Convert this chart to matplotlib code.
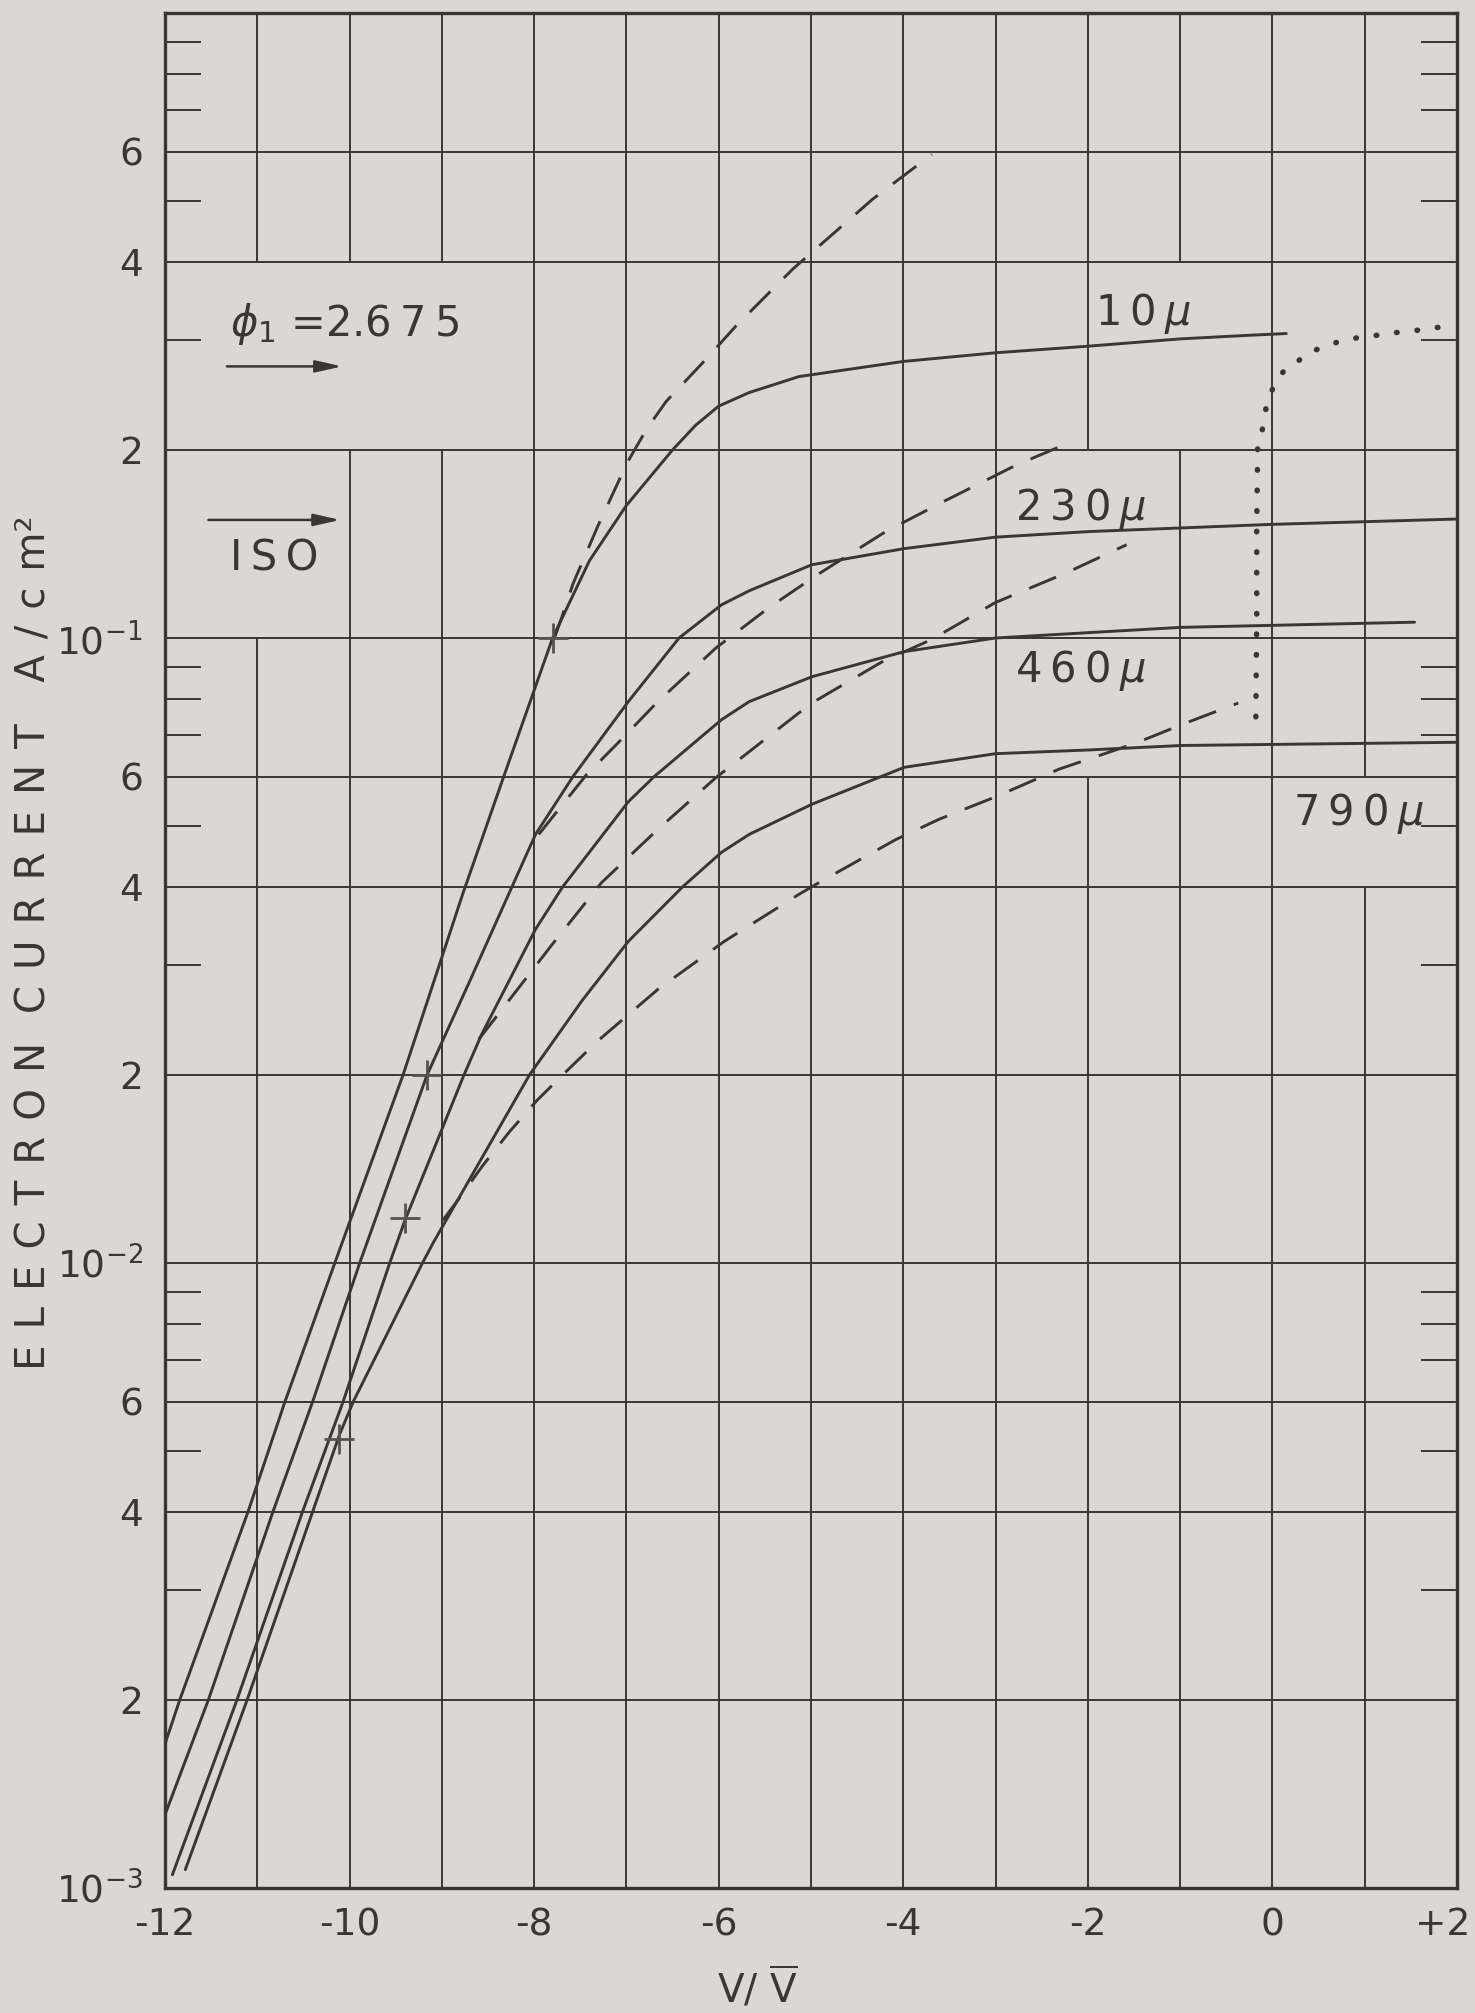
import matplotlib
matplotlib.use("Agg")
import matplotlib.pyplot as plt
from matplotlib.ticker import FixedLocator, NullFormatter
from matplotlib.transforms import ScaledTranslation

PAPER = "#d9d8d3"
INK = "#3a3636"
TS = "\u2009"  # thin space, the hand lettering is wide

# solid curves: V/Vbar and electron current (A/cm^2)
V_10 = [-12.0, -11.84, -11.10, -10.70, -10.16, -9.42, -8.775, -8.33, -7.80, -7.40,
        -7.00, -6.50, -6.25, -6.00, -5.67, -5.13, -4.00, -3.00, -2.00, -1.00, -0.26, 0.15]
J_10 = [1.70e-3, 2.0e-3, 4.0e-3, 6.0e-3, 1.0e-2, 2.0e-2, 3.89e-2, 6.0e-2, 0.100, 0.133,
        0.163, 0.200, 0.219, 0.235, 0.247, 0.262, 0.277, 0.286, 0.293, 0.301, 0.305, 0.307]

V_230 = [-12.0, -11.53, -10.83, -10.40, -9.89, -9.16, -8.70, -8.24, -7.985, -7.58,
         -6.98, -6.43, -5.97, -5.67, -4.99, -3.99, -3.00, -1.99, -0.99, 0.0, 2.0]
J_230 = [1.31e-3, 2.0e-3, 4.0e-3, 6.0e-3, 1.0e-2, 2.0e-2, 2.82e-2, 4.0e-2, 4.85e-2, 6.0e-2,
         7.91e-2, 0.100, 0.113, 0.119, 0.131, 0.139, 0.145, 0.148, 0.150, 0.152, 0.155]

V_460 = [-11.92, -11.22, -10.51, -10.07, -9.565, -9.40, -8.76, -8.57, -7.985, -7.69,
         -6.98, -6.70, -5.97, -5.67, -4.99, -3.99, -3.00, -1.99, -0.99, 1.54]
J_460 = [1.05e-3, 2.0e-3, 4.0e-3, 6.0e-3, 1.0e-2, 1.17e-2, 2.0e-2, 2.32e-2, 3.42e-2, 4.0e-2,
         5.47e-2, 6.0e-2, 7.40e-2, 7.91e-2, 8.67e-2, 9.51e-2, 0.100, 0.102, 0.104, 0.106]

V_790 = [-11.78, -11.11, -10.40, -10.11, -9.96, -9.21, -9.09, -8.05, -7.48, -6.98,
         -6.39, -5.97, -5.67, -4.99, -3.99, -3.00, -1.99, -0.99, 2.0]
J_790 = [1.07e-3, 2.0e-3, 4.0e-3, 5.31e-3, 6.0e-3, 1.0e-2, 1.08e-2, 2.0e-2, 2.63e-2, 3.27e-2,
         4.0e-2, 4.54e-2, 4.85e-2, 5.42e-2, 6.21e-2, 6.53e-2, 6.62e-2, 6.73e-2, 6.81e-2]

# dashed curves
VD_10 = [-7.78, -7.70, -7.58, -7.31, -6.99, -6.78, -6.57, -6.18, -5.81, -5.20, -4.33, -3.69]
JD_10 = [0.100, 0.108, 0.122, 0.151, 0.191, 0.216, 0.239, 0.275, 0.316, 0.389, 0.504, 0.594]

VD_230 = [-7.95, -7.72, -7.43, -7.11, -6.66, -6.03, -5.45, -4.94, -4.62, -4.19, -3.54, -2.78, -2.18]
JD_230 = [0.0485, 0.0535, 0.0605, 0.0675, 0.0791, 0.0964, 0.112, 0.126, 0.135, 0.148,
          0.166, 0.189, 0.206]

VD_460 = [-8.60, -8.30, -7.80, -7.27, -6.68, -6.03, -5.13, -4.94, -4.23, -3.69, -3.00, -2.24, -1.58]
JD_460 = [0.0228, 0.0260, 0.0324, 0.0406, 0.0491, 0.0598, 0.0759, 0.0795, 0.0916, 0.0995,
          0.114, 0.127, 0.141]

VD_790 = [-8.99, -8.81, -8.56, -8.27, -7.97, -7.69, -7.32, -6.66, -5.94, -5.13, -4.89,
          -4.08, -3.61, -3.00, -2.31, -1.48, -0.94, -0.37]
JD_790 = [0.0117, 0.0127, 0.0143, 0.0162, 0.0182, 0.0200, 0.0226, 0.0274, 0.0327, 0.0389,
          0.0408, 0.0476, 0.0513, 0.0557, 0.0617, 0.0679, 0.0731, 0.0787]

# dotted curve near V = 0
V_DOT = [-0.18, -0.17, -0.17, -0.16, -0.12, -0.07, -0.02, 0.03, 0.12, 0.25, 0.37, 0.52,
         0.72, 0.91, 1.13, 1.33, 1.53, 1.69, 2.0]
J_DOT = [0.0748, 0.108, 0.151, 0.202, 0.211, 0.233, 0.246, 0.256, 0.267, 0.275, 0.285,
         0.291, 0.298, 0.302, 0.305, 0.308, 0.310, 0.313, 0.316]

# "+" marks on the solid curves
PLUS_V = [-7.80, -9.16, -9.40, -10.11]
PLUS_J = [0.100, 0.0200, 0.0118, 0.00522]

X_TICKS = [-12, -10, -8, -6, -4, -2, 0, 2]
X_LABELS = ["-12", "-10", "-8", "-6", "-4", "-2", "0", "+2"]
Y_TICKS = [1e-3, 2e-3, 4e-3, 6e-3, 1e-2, 2e-2, 4e-2, 6e-2, 0.1, 0.2, 0.4, 0.6]
Y_LABELS = [r"$\mathregular{10^{-3}}$", "2", "4", "6",
            r"$\mathregular{10^{-2}}$", "2", "4", "6",
            r"$\mathregular{10^{-1}}$", "2", "4", "6"]
MINOR_J = [m * d for d in (1e-3, 1e-2, 1e-1) for m in (3, 5, 7, 8, 9)]
GRID_J = Y_TICKS[1:]
GRID_V = list(range(-11, 2))
# pieces of the vertical rules left out by the draftsman around the lettering
GAPS = {-11: [(0.1, 0.4)], -10: [(0.2, 0.4)], -9: [(0.2, 0.4)],
        -2: [(0.06, 0.2)], -1: [(0.2, 0.4)], 1: [(0.04, 0.06)]}

plt.rcParams["font.family"] = ["DejaVu Sans"]
plt.rcParams["mathtext.fontset"] = "dejavusans"

fig = plt.figure(figsize=(14.75, 20.13), dpi=100, facecolor=PAPER)
ax = fig.add_axes([165 / 1475, 125 / 2013, 1292 / 1475, 1875 / 2013])
ax.set_facecolor(PAPER)
ax.set_yscale("log")
ax.set_xlim(-12, 2)
ax.set_ylim(1e-3, 1)

# grid
ax.hlines(GRID_J, -12, 2, color=INK, lw=1.4, zorder=1)
for v in GRID_V:
    lo = 1e-3
    for g0, g1 in GAPS.get(v, []):
        ax.vlines(v, lo, g0, color=INK, lw=1.4, zorder=1)
        lo = g1
    ax.vlines(v, lo, 1.0, color=INK, lw=1.4, zorder=1)

for s in ax.spines.values():
    s.set_color(INK)
    s.set_linewidth(2.4)

ax.set_xticks(X_TICKS, labels=X_LABELS)
ax.set_yticks(Y_TICKS, labels=Y_LABELS)
ax.yaxis.set_minor_locator(FixedLocator(MINOR_J))
ax.yaxis.set_minor_formatter(NullFormatter())
ax.xaxis.set_minor_locator(FixedLocator([]))
ax.tick_params(axis="both", which="major", length=0, labelsize=27, colors=INK)
ax.tick_params(axis="x", which="major", pad=14)
ax.tick_params(axis="y", which="major", pad=16)
ax.tick_params(axis="y", which="minor", direction="in", length=26, width=1.4,
               left=True, right=True, color=INK)
# the "+2" sits just inside the right edge of the sheet
last = ax.get_xticklabels()[-1]
last.set_horizontalalignment("right")
last.set_transform(last.get_transform() + ScaledTranslation(0.13, 0, fig.dpi_scale_trans))

# curves
for v, j in [(V_10, J_10), (V_230, J_230), (V_460, J_460), (V_790, J_790)]:
    ax.plot(v, j, color=INK, lw=2.1, solid_capstyle="round", solid_joinstyle="round",
            zorder=3)
for v, j in [(VD_10, JD_10), (VD_230, JD_230), (VD_460, JD_460), (VD_790, JD_790)]:
    ax.plot(v, j, color=INK, lw=2.1, dashes=(10, 6.5), zorder=3)
ax.plot(V_DOT, J_DOT, color=INK, lw=4.0, dashes=(0.1, 3.6), dash_capstyle="round",
        zorder=3)
ax.plot(PLUS_V, PLUS_J, ls="none", marker="+", ms=22, mew=2.0, color="#575252", zorder=4)

# curve labels
lab = dict(fontsize=30, color=INK, ha="left", va="baseline", zorder=5)
ax.text(-1.92, 0.317, TS.join("10") + TS + r"$\mu$", **lab)
ax.text(-2.79, 0.1546, TS.join("230") + TS + r"$\mu$", **lab)
ax.text(-2.79, 0.0851, TS.join("460") + TS + r"$\mu$", **lab)
ax.text(0.22, 0.0502, TS.join("790") + TS + r"$\mu$", **lab)

ax.text(-11.30, 0.304, r"$\phi_{\mathregular{1}}$" + " =2.6" + TS + "7" + TS + "5", **lab)
ax.text(-11.30, 0.128, TS.join("ISO"), **lab)
arrow = dict(arrowstyle="-|>,head_length=0.8,head_width=0.18", color=INK, lw=1.8,
             mutation_scale=20, shrinkA=0, shrinkB=0)
ax.annotate("", xy=(-10.08, 0.272), xytext=(-11.33, 0.272), arrowprops=arrow)
ax.annotate("", xy=(-10.10, 0.1545), xytext=(-11.53, 0.1545), arrowprops=arrow)

# axis titles
gap = TS * 2
ylab = (gap.join("ELECTRON") + " " + gap + gap.join("CURRENT") + "  " + gap
        + gap.join("A/cm") + "\u00b2")
fig.text(35 / 1475, 1 - 943 / 2013, ylab, rotation=90, ha="center", va="center",
         fontsize=29, color=INK)
fig.text(757 / 1475, 1 - 1988 / 2013, "V/ " + r"$\overline{\mathrm{V}}$",
         ha="center", va="center", fontsize=28, color=INK)

fig.savefig("out.png", dpi=100, facecolor=PAPER)
